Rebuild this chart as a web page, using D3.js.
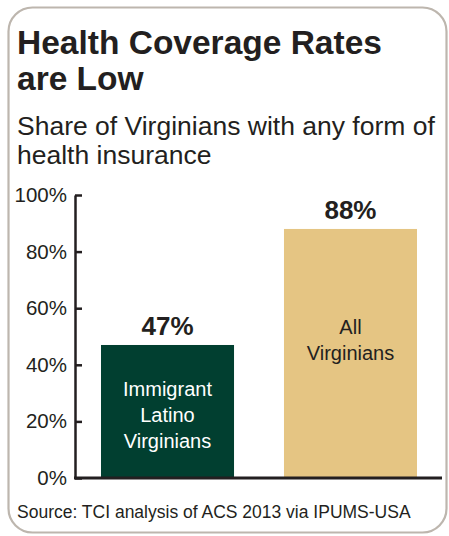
<!DOCTYPE html>
<html>
<head>
<meta charset="utf-8">
<script src="https://cdn.jsdelivr.net/npm/d3@7"></script>
<style>
  html, body { margin: 0; padding: 0; background: #ffffff; }
  svg { display: block; }
  text { font-family: "Liberation Sans", Arial, Helvetica, sans-serif; fill: #231f20; }
</style>
</head>
<body>
<svg id="chart" width="449" height="536"></svg>
<script>
// ---- data ----
const titleLines = ["Health Coverage Rates", "are Low"];
const subtitleLines = ["Share of Virginians with any form of", "health insurance"];
const categories = ["Immigrant Latino Virginians", "All Virginians"];
const categoryLines = [["Immigrant", "Latino", "Virginians"], ["All", "Virginians"]];
const values = [47, 88];
const valueLabels = ["47%", "88%"];
const tickValues = [0, 20, 40, 60, 80, 100];
const tickLabels = ["0%", "20%", "40%", "60%", "80%", "100%"];
const source = "Source: TCI analysis of ACS 2013 via IPUMS-USA";

// ---- styles / layout ----
const barColors = ["#013f30", "#e5c583"];
const innerTextColors = ["#ffffff", "#231f20"];
const innerCenterFrac = [0.477, 0.554]; // vertical centre of inner label, fraction of bar height from baseline

const svg = d3.select("#chart");

// frame
svg.append("rect")
  .attr("x", 8.5).attr("y", 7.5)
  .attr("width", 438).attr("height", 525)
  .attr("rx", 24).attr("ry", 24)
  .attr("fill", "#ffffff")
  .attr("stroke", "#bdb6ae")
  .attr("stroke-width", 2.2);

// title
svg.append("g").selectAll("text").data(titleLines).join("text")
  .attr("x", 17).attr("y", (d, i) => 54 + i * 36)
  .attr("font-size", 33.5).attr("font-weight", "bold")
  .text(d => d);

// subtitle
svg.append("g").selectAll("text").data(subtitleLines).join("text")
  .attr("x", 17).attr("y", (d, i) => 135 + i * 29)
  .attr("font-size", 26.5)
  .text(d => d);

// scales
const y = d3.scaleLinear().domain([0, 100]).range([478, 195]);
const x = d3.scaleBand().domain(categories).range([76, 442])
  .paddingInner(0.273).paddingOuter(0.1366);

// bars
svg.append("g").selectAll("rect").data(categories).join("rect")
  .attr("x", d => x(d))
  .attr("y", (d, i) => y(values[i]))
  .attr("width", x.bandwidth())
  .attr("height", (d, i) => y(0) - y(values[i]))
  .attr("fill", (d, i) => barColors[i]);

// value labels
svg.append("g").selectAll("text").data(categories).join("text")
  .attr("x", d => x(d) + x.bandwidth() / 2)
  .attr("y", (d, i) => y(values[i]) - 10)
  .attr("text-anchor", "middle")
  .attr("font-size", 26).attr("font-weight", "bold")
  .text((d, i) => valueLabels[i]);

// inner labels
const lineH = 26;
categories.forEach((c, i) => {
  const lines = categoryLines[i];
  const barH = y(0) - y(values[i]);
  const cy = y(0) - innerCenterFrac[i] * barH;
  const g = svg.append("g");
  lines.forEach((ln, j) => {
    g.append("text")
      .attr("x", x(c) + x.bandwidth() / 2)
      .attr("y", cy - (lines.length - 1) * lineH / 2 + j * lineH + 7)
      .attr("text-anchor", "middle")
      .attr("font-size", 20)
      .style("fill", innerTextColors[i])
      .text(ln);
  });
});

// y axis
const yAxis = d3.axisLeft(y)
  .tickValues(tickValues)
  .tickFormat((d, i) => tickLabels[i])
  .tickSize(-7)
  .tickSizeOuter(0)
  .tickPadding(8);
const ag = svg.append("g").attr("transform", "translate(75,0)").call(yAxis);
ag.select(".domain").attr("stroke", "#231f20").attr("stroke-width", 2.5);
ag.selectAll(".tick line").attr("stroke", "#231f20").attr("stroke-width", 2.5);
ag.selectAll(".tick text")
  .attr("font-size", 20.5)
  .attr("font-family", "'Liberation Sans', Arial, Helvetica, sans-serif")
  .attr("fill", "#231f20");

// baseline
svg.append("line")
  .attr("x1", 74).attr("x2", 442)
  .attr("y1", y(0)).attr("y2", y(0))
  .attr("stroke", "#231f20").attr("stroke-width", 3);

// source
svg.append("text")
  .attr("x", 17).attr("y", 518)
  .attr("font-size", 17.5)
  .text(source);
</script>
</body>
</html>
